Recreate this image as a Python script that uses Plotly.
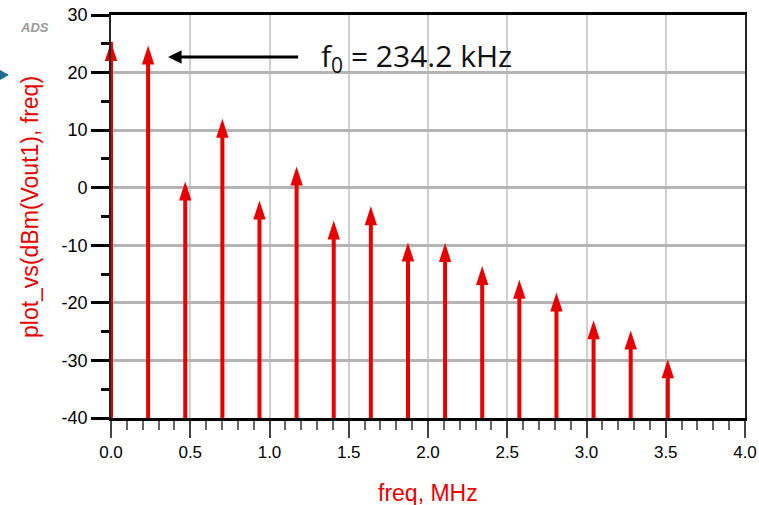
import plotly.graph_objects as go

# ---- data ----
freq_mhz = [0.0, 0.2342, 0.4684, 0.7026, 0.9368, 1.1710, 1.4052, 1.6394,
            1.8736, 2.1078, 2.3420, 2.5762, 2.8104, 3.0446, 3.2788, 3.5130]
dbm_vout = [25.3, 24.7, 1.1, 12.0, -2.2, 3.7, -5.7, -3.2,
            -9.5, -9.6, -13.6, -16.0, -18.2, -23.0, -24.8, -29.8]
floor_db = -40
x_tickvals = [0.0, 0.5, 1.0, 1.5, 2.0, 2.5, 3.0, 3.5, 4.0]
x_ticktext = ["0.0", "0.5", "1.0", "1.5", "2.0", "2.5", "3.0", "3.5", "4.0"]
y_tickvals = [30, 20, 10, 0, -10, -20, -30, -40]
y_ticktext = ["30", "20", "10", "0", "-10", "-20", "-30", "-40"]

RED = "#e60000"
W, H = 759, 505
L, R, T, B = 111, 14, 15, 87

# stems: line from floor to value, arrow marker at the tip
xs, ys, sizes = [], [], []
for f, v in zip(freq_mhz, dbm_vout):
    xs += [f, f, None]
    ys += [floor_db, v, None]
    sizes += [0, 20, 0]

fig = go.Figure()
fig.add_trace(go.Scatter(
    x=xs, y=ys, mode="lines+markers",
    line=dict(color=RED, width=4),
    marker=dict(symbol="arrow", angleref="previous", size=sizes,
                color=RED, opacity=1, line=dict(width=0)),
    cliponaxis=False,
    hoverinfo="skip", showlegend=False,
))

font = "Liberation Sans, Arial, sans-serif"
fig.update_layout(
    width=W, height=H,
    margin=dict(l=L, r=R, t=T, b=B, autoexpand=False),
    paper_bgcolor="white", plot_bgcolor="white",
    font=dict(family=font, color="black"),
    showlegend=False,
)
fig.update_xaxes(
    range=[0, 4], tickvals=x_tickvals, ticktext=x_ticktext,
    ticks="outside", ticklen=17, tickwidth=1.5, tickcolor="#444",
    minor=dict(dtick=0.1, tick0=0, ticks="outside", ticklen=9,
               tickwidth=1.5, tickcolor="#666", showgrid=False),
    showgrid=True, gridcolor="#d0d0d0", gridwidth=1.5,
    showline=True, linecolor="black", linewidth=3, mirror=True,
    zeroline=False, automargin=False,
    tickfont=dict(size=17, color="black"),
)
fig.update_yaxes(
    range=[-40, 30], tickvals=y_tickvals, ticktext=y_ticktext,
    ticks="outside", ticklen=18, tickwidth=3, tickcolor="black",
    minor=dict(dtick=5, tick0=0, ticks="outside", ticklen=8,
               tickwidth=3, tickcolor="black", showgrid=False),
    showgrid=True, gridcolor="#b4b4b4", gridwidth=2.5,
    showline=True, linecolor="#222", linewidth=1.8, mirror=True,
    zeroline=False, automargin=False,
    tickfont=dict(size=18, color="black"),
)

def px(xp):
    return (xp - L) / (W - L - R)

def py(yp):
    return (H - B - yp) / (H - B - T)

# axis titles
fig.add_annotation(x=px(30), y=py(207), xref="paper", yref="paper",
                   xanchor="center", yanchor="middle",
                   showarrow=False, textangle=-90,
                   text="plot_vs(dBm(Vout1), freq)",
                   font=dict(family=font, size=23, color=RED))
fig.add_annotation(x=px(428), y=py(493), xref="paper", yref="paper",
                   xanchor="center", yanchor="middle",
                   showarrow=False, text="freq, MHz",
                   font=dict(family=font, size=23, color=RED))

# annotation arrow and label
fig.add_annotation(x=0.36, y=22.7, ax=1.19, ay=22.7, xref="x", yref="y",
                   axref="x", ayref="y", showarrow=True, arrowhead=2,
                   arrowsize=0.9, arrowwidth=3, arrowcolor="black", text="")
fig.add_annotation(x=1.31, y=22.7, xref="x", yref="y", showarrow=False,
                   xanchor="left", yanchor="middle",
                   text="f<sub>0</sub> = 234.2 kHz",
                   font=dict(family="Open Sans, sans-serif", size=30, color="#111"))

# ADS logo
fig.add_annotation(x=px(34), y=py(28), xref="paper", yref="paper",
                   xanchor="center", yanchor="middle",
                   showarrow=False, text="<b><i>ADS</i></b>",
                   font=dict(family=font, size=13, color="#999999"))
# small teal marker at left edge
fig.add_shape(type="path", xref="paper", yref="paper",
              path=f"M {px(0)},{py(70)} L {px(9)},{py(75)} L {px(0)},{py(80)} Z",
              fillcolor="#1b6e8c", line=dict(width=0))

fig.write_html("out.html", config={"displayModeBar": False},
               post_script="document.body.style.margin='0';")
